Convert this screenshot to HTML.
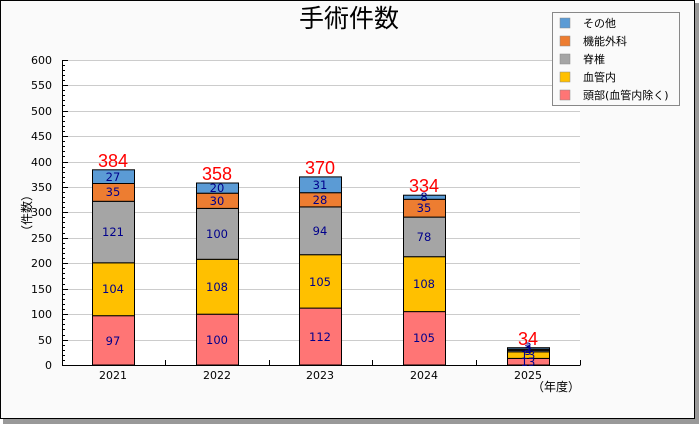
<!DOCTYPE html>
<html><head><meta charset="utf-8"><style>
html,body{margin:0;padding:0;background:#fff;}
svg{display:block;font-family:"DejaVu Sans","Noto Sans CJK JP",sans-serif;}
</style></head><body>
<svg width="700" height="425" viewBox="0 0 700 425">
<rect x="3" y="3" width="696" height="421" fill="#999"/>
<rect x="0.5" y="0.5" width="694" height="418" fill="#fafafa" stroke="#000"/>
<text x="349" y="27" font-size="25" text-anchor="middle" fill="#000" font-family="Noto Sans CJK JP, sans-serif">手術件数</text>
<rect x="62" y="60" width="518" height="305" fill="#fff"/>
<g stroke="#ccc" stroke-width="1">
<line x1="62" x2="580" y1="60.5" y2="60.5"/><line x1="62" x2="580" y1="85.5" y2="85.5"/><line x1="62" x2="580" y1="111.5" y2="111.5"/><line x1="62" x2="580" y1="136.5" y2="136.5"/><line x1="62" x2="580" y1="162.5" y2="162.5"/><line x1="62" x2="580" y1="187.5" y2="187.5"/><line x1="62" x2="580" y1="212.5" y2="212.5"/><line x1="62" x2="580" y1="238.5" y2="238.5"/><line x1="62" x2="580" y1="263.5" y2="263.5"/><line x1="62" x2="580" y1="289.5" y2="289.5"/><line x1="62" x2="580" y1="314.5" y2="314.5"/><line x1="62" x2="580" y1="340.5" y2="340.5"/>
</g>
<g font-size="11" text-anchor="end" fill="#000">
<text x="52" y="64">600</text><text x="52" y="89">550</text><text x="52" y="115">500</text><text x="52" y="140">450</text><text x="52" y="166">400</text><text x="52" y="191">350</text><text x="52" y="216">300</text><text x="52" y="242">250</text><text x="52" y="267">200</text><text x="52" y="293">150</text><text x="52" y="318">100</text><text x="52" y="344">50</text><text x="52" y="369">0</text>
</g>
<text x="31" y="213" font-size="12" transform="rotate(-90 31 213)" text-anchor="middle">（件数）</text>
<g stroke="#000" stroke-width="1" fill="none">
<path d="M62.5 60V365.5H580.5"/>
<path d="M62 60.5h6M62 65.5h3M62 70.5h3M62 75.5h3M62 80.5h3M62 85.5h6M62 90.5h3M62 95.5h3M62 100.5h3M62 105.5h3M62 111.5h6M62 116.5h3M62 121.5h3M62 126.5h3M62 131.5h3M62 136.5h6M62 141.5h3M62 146.5h3M62 151.5h3M62 156.5h3M62 162.5h6M62 167.5h3M62 172.5h3M62 177.5h3M62 182.5h3M62 187.5h6M62 192.5h3M62 197.5h3M62 202.5h3M62 207.5h3M62 212.5h6M62 217.5h3M62 222.5h3M62 227.5h3M62 233.5h3M62 238.5h6M62 243.5h3M62 248.5h3M62 253.5h3M62 258.5h3M62 263.5h6M62 268.5h3M62 273.5h3M62 278.5h3M62 284.5h3M62 289.5h6M62 294.5h3M62 299.5h3M62 304.5h3M62 309.5h3M62 314.5h6M62 319.5h3M62 324.5h3M62 329.5h3M62 335.5h3M62 340.5h6M62 345.5h3M62 350.5h3M62 355.5h3M62 360.5h3"/>
<path d="M165.5 360v5M269.5 360v5M372.5 360v5M476.5 360v5M580.5 360v5"/>
</g>
<g stroke="#000" stroke-width="1">
<rect x="92.5" y="315.7" width="42" height="49.3" fill="#ff7575"/>
<rect x="92.5" y="262.8" width="42" height="52.9" fill="#ffc000"/>
<rect x="92.5" y="201.3" width="42" height="61.5" fill="#a5a5a5"/>
<rect x="92.5" y="183.5" width="42" height="17.8" fill="#ed7d31"/>
<rect x="92.5" y="169.8" width="42" height="13.7" fill="#5b9bd5"/>
<rect x="196.5" y="314.2" width="42" height="50.8" fill="#ff7575"/>
<rect x="196.5" y="259.3" width="42" height="54.9" fill="#ffc000"/>
<rect x="196.5" y="208.4" width="42" height="50.9" fill="#a5a5a5"/>
<rect x="196.5" y="193.2" width="42" height="15.2" fill="#ed7d31"/>
<rect x="196.5" y="183.0" width="42" height="10.2" fill="#5b9bd5"/>
<rect x="299.5" y="308.1" width="42" height="56.9" fill="#ff7575"/>
<rect x="299.5" y="254.7" width="42" height="53.4" fill="#ffc000"/>
<rect x="299.5" y="206.9" width="42" height="47.8" fill="#a5a5a5"/>
<rect x="299.5" y="192.7" width="42" height="14.2" fill="#ed7d31"/>
<rect x="299.5" y="176.9" width="42" height="15.8" fill="#5b9bd5"/>
<rect x="403.5" y="311.6" width="42" height="53.4" fill="#ff7575"/>
<rect x="403.5" y="256.7" width="42" height="54.9" fill="#ffc000"/>
<rect x="403.5" y="217.1" width="42" height="39.6" fill="#a5a5a5"/>
<rect x="403.5" y="199.3" width="42" height="17.8" fill="#ed7d31"/>
<rect x="403.5" y="195.2" width="42" height="4.1" fill="#5b9bd5"/>
<rect x="507.5" y="358.4" width="42" height="6.6" fill="#ff7575"/>
<rect x="507.5" y="351.8" width="42" height="6.6" fill="#ffc000"/>
<rect x="507.5" y="350.3" width="42" height="1.5" fill="#a5a5a5"/>
<rect x="507.5" y="349.2" width="42" height="1.1" fill="#ed7d31"/>
<rect x="507.5" y="347.7" width="42" height="1.5" fill="#5b9bd5"/>
</g>
<g font-size="11.5" fill="#00008b" text-anchor="middle">
<text x="113" y="345">97</text><text x="113" y="293">104</text><text x="113" y="236">121</text><text x="113" y="196">35</text><text x="113" y="181">27</text>
<text x="217" y="344">100</text><text x="217" y="291">108</text><text x="217" y="238">100</text><text x="217" y="205">30</text><text x="217" y="192">20</text>
<text x="320" y="341">112</text><text x="320" y="286">105</text><text x="320" y="235">94</text><text x="320" y="204">28</text><text x="320" y="189">31</text>
<text x="424" y="342">105</text><text x="424" y="288">108</text><text x="424" y="241">78</text><text x="424" y="212">35</text><text x="424" y="201">8</text>
<text x="528" y="366">13</text><text x="528" y="359">13</text><text x="528" y="355">3</text><text x="528" y="353">2</text><text x="528" y="351">3</text>
</g>
<g font-size="18" fill="#ff0000" text-anchor="middle" font-family="Liberation Sans, sans-serif">
<text x="113" y="167">384</text><text x="217" y="180">358</text><text x="320" y="174">370</text><text x="424" y="192">334</text><text x="528" y="345">34</text>
</g>
<g font-size="11" text-anchor="middle" fill="#000">
<text x="113" y="379">2021</text><text x="217" y="379">2022</text><text x="320" y="379">2023</text><text x="424" y="379">2024</text><text x="528" y="379">2025</text>
</g>
<text x="580" y="391" font-size="12" text-anchor="end">（年度）</text>
<rect x="552.5" y="12.5" width="127" height="93" fill="#fafafa" stroke="#888"/>
<g stroke="#888" stroke-width="0.5">
<rect x="560" y="18" width="10" height="10" fill="#5b9bd5"/>
<rect x="560" y="36" width="10" height="10" fill="#ed7d31"/>
<rect x="560" y="54" width="10" height="10" fill="#a5a5a5"/>
<rect x="560" y="72" width="10" height="10" fill="#ffc000"/>
<rect x="560" y="90" width="10" height="10" fill="#ff7575"/>
</g>
<g font-size="11" fill="#000">
<text x="583" y="27">その他</text><text x="583" y="45">機能外科</text><text x="583" y="63">脊椎</text><text x="583" y="81">血管内</text><text x="583" y="99">頭部(血管内除く)</text>
</g>
</svg>
</body></html>
